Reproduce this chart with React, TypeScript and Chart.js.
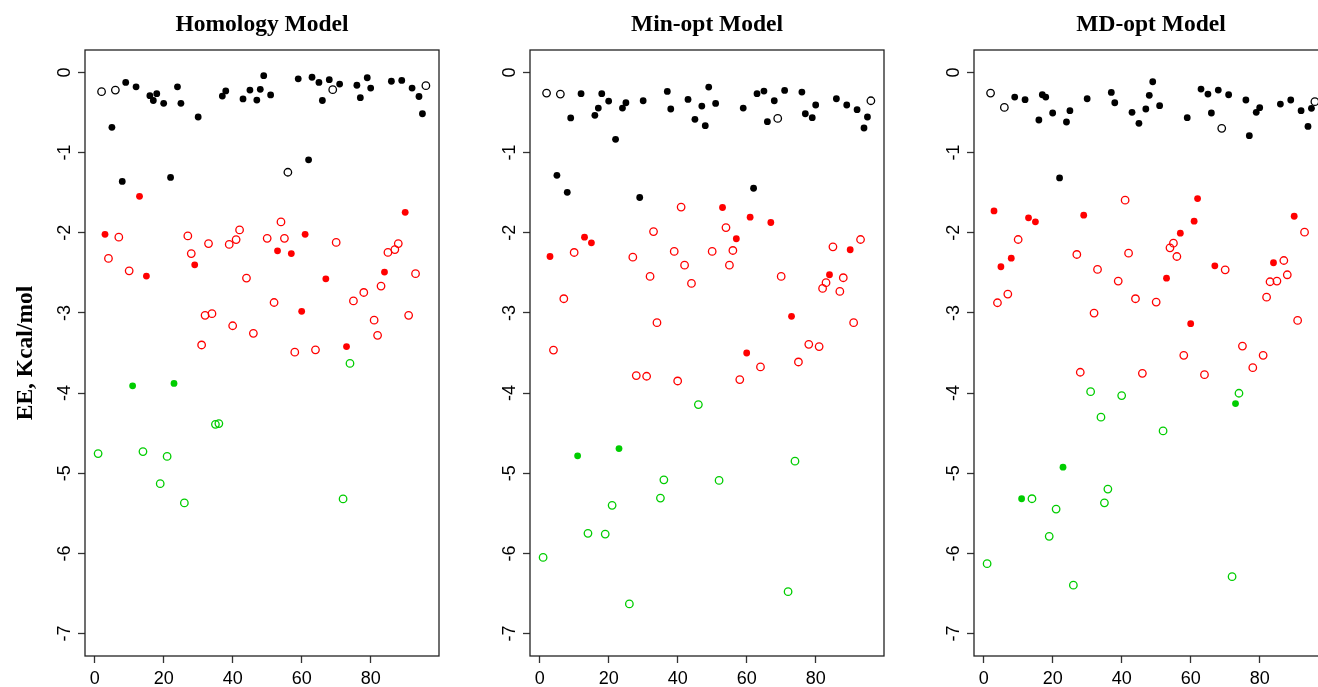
import React, { useEffect, useRef } from "react";
import { Chart, registerables } from "chart.js";

Chart.register(...registerables);

const PANEL_TITLES = ["Homology Model", "Min-opt Model", "MD-opt Model"];
const X_TICKS = [0, 20, 40, 60, 80];
const Y_TICKS = [0, -1, -2, -3, -4, -5, -6, -7];
const Y_LABEL = "EE, Kcal/mol";

// 1 = filled dot, 0 = open circle (same for every panel), compound index 1..96
const FILLED = [
  0, 0, 1, 0, 1, 0, 0, 1, 1, 0,
  1, 1, 1, 0, 1, 1, 1, 1, 0, 1,
  0, 1, 1, 1, 1, 0, 0, 0, 1, 1,
  0, 0, 0, 0, 0, 0, 1, 1, 0, 0,
  0, 0, 1, 0, 1, 0, 1, 1, 1, 0,
  1, 0, 1, 0, 0, 0, 1, 0, 1, 1,
  1, 1, 1, 0, 1, 1, 1, 1, 0, 0,
  1, 0, 1, 0, 0, 1, 1, 0, 1, 1,
  0, 0, 0, 1, 0, 1, 0, 0, 1, 1,
  0, 1, 0, 1, 1, 0,
];

// colour class per compound: k = black, r = red, g = green
const HOMOLOGY_CLASS =
  "gkrrkkrkkr" + "gkrgrkkkgk" + "gkgkkgrrrk" + "rrrrggkkrr" + "rrkrkrkkkr" +
  "krrrrkrrkr" + "rkkrkkrkkr" + "kgrgrkkrkk" + "rrrrrkrrkr" + "rkrkkk";
const MINOPT_CLASS =
  "gkrrkkrkkr" + "gkrgrkkkgk" + "gkgkkgrrkk" + "rrrrggkkrr" + "rrkrkgkkkr" +
  "kgrrrrrrkr" + "rkkrkkrkkr" + "kgrgrkkrkk" + "rrrrrkrrkr" + "rkrkkk";
const MDOPT_CLASS =
  "gkrrrkrrkr" + "gkrgrkkkgk" + "gkgkkgrrrk" + "grrgggkkrg" + "rrkrkrkkkr" +
  "kgrrrrrrkr" + "rrkrkkrkkr" + "kgggrkkrkk" + "rrrrrkrrkr" + "rkrkkk";

const HOMOLOGY_EE = [
  -4.755, -0.24, -2.02, -2.32, -0.685, -0.22, -2.055, -1.36, -0.125, -2.475,
  -3.91, -0.18, -1.545, -4.73, -2.54, -0.29, -0.35, -0.265, -5.13, -0.385,
  -4.79, -1.31, -3.88, -0.18, -0.385, -5.37, -2.04, -2.26, -2.4, -0.556,
  -3.4, -3.03, -2.135, -3.01, -4.39, -4.38, -0.295, -0.23, -2.145, -3.16,
  -2.085, -1.965, -0.33, -2.565, -0.22, -3.255, -0.345, -0.21, -0.04, -2.07,
  -0.28, -2.87, -2.225, -1.865, -2.07, -1.245, -2.26, -3.49, -0.08, -2.98,
  -2.02, -1.09, -0.06, -3.46, -0.125, -0.35, -2.575, -0.09, -0.215, -2.12,
  -0.145, -5.32, -3.42, -3.63, -2.85, -0.16, -0.315, -2.745, -0.066, -0.195,
  -3.09, -3.28, -2.665, -2.49, -2.245, -0.11, -2.21, -2.135, -0.1, -1.745,
  -3.03, -0.195, -2.51, -0.3, -0.515, -0.165,
];

const MINOPT_EE = [
  -6.05, -0.257, -2.296, -3.463, -1.283, -0.27, -2.823, -1.495, -0.568, -2.246,
  -4.783, -0.265, -2.055, -5.75, -2.125, -0.535, -0.445, -0.265, -5.759, -0.357,
  -5.4, -0.834, -4.692, -0.445, -0.378, -6.63, -2.305, -3.782, -1.56, -0.353,
  -3.79, -2.545, -1.985, -3.122, -5.31, -5.082, -0.237, -0.456, -2.233, -3.849,
  -1.68, -2.404, -0.336, -2.632, -0.585, -4.143, -0.419, -0.664, -0.182, -2.233,
  -0.386, -5.09, -1.685, -1.935, -2.404, -2.221, -2.075, -3.832, -0.445, -3.5,
  -1.806, -1.445, -0.265, -3.674, -0.232, -0.614, -1.872, -0.353, -0.573, -2.545,
  -0.224, -6.477, -3.043, -4.85, -3.612, -0.245, -0.515, -3.392, -0.564, -0.406,
  -3.42, -2.694, -2.623, -2.524, -2.175, -0.328, -2.732, -2.561, -0.406, -2.212,
  -3.122, -0.465, -2.084, -0.693, -0.556, -0.353,
];

const MDOPT_EE = [
  -6.128, -0.257, -1.727, -2.873, -2.424, -0.436, -2.765, -2.317, -0.307, -2.084,
  -5.318, -0.34, -1.814, -5.318, -1.864, -0.593, -0.278, -0.307, -5.787, -0.506,
  -5.447, -1.316, -4.924, -0.618, -0.477, -6.397, -2.271, -3.74, -1.781, -0.328,
  -3.982, -3.002, -2.458, -4.301, -5.369, -5.198, -0.249, -0.378, -2.603, -4.031,
  -1.594, -2.255, -0.498, -2.823, -0.635, -3.753, -0.456, -0.286, -0.116, -2.865,
  -0.415, -4.472, -2.566, -2.188, -2.13, -2.296, -2.005, -3.529, -0.564, -3.134,
  -1.856, -1.573, -0.207, -3.77, -0.27, -0.506, -2.412, -0.22, -0.697, -2.462,
  -0.278, -6.29, -4.131, -4.002, -3.413, -0.344, -0.789, -3.683, -0.498, -0.44,
  -3.529, -2.803, -2.611, -2.374, -2.603, -0.394, -2.346, -2.524, -0.344, -1.794,
  -3.093, -0.477, -1.993, -0.673, -0.448, -0.365,
];

const PANEL_VALUES = [HOMOLOGY_EE, MINOPT_EE, MDOPT_EE];
const PANEL_CLASSES = [HOMOLOGY_CLASS, MINOPT_CLASS, MDOPT_CLASS];

const COLORS: Record<string, string> = { k: "#000000", r: "#FF0000", g: "#00CD00" };

const CANVAS_W = 445;
const CANVAS_H = 687;
const CANVAS_LEFT = [0, 445, 889];
const AXIS_W = 85;
const PLOT_W = 354;
const PLOT_TOP = 50;
const X_AXIS_H = 31;

const SERIF = '"Liberation Serif", "Times New Roman", serif';
const SANS = '"Liberation Sans", Arial, Helvetica, sans-serif';

const framePlugin = {
  id: "frame",
  afterDraw(chart: any, _args: any, opts: any) {
    const { ctx, chartArea: a, scales } = chart;
    ctx.save();
    ctx.strokeStyle = "#222";
    ctx.lineWidth = 1.3;
    ctx.strokeRect(a.left, a.top, a.right - a.left, a.bottom - a.top);

    ctx.fillStyle = "#000";
    ctx.font = `bold 23.5px ${SERIF}`;
    ctx.textAlign = "center";
    ctx.textBaseline = "alphabetic";
    ctx.fillText(opts.title, (a.left + a.right) / 2, 30.5);

    ctx.font = `18px ${SANS}`;
    for (const v of Y_TICKS) {
      const y = scales.y.getPixelForValue(v);
      ctx.save();
      ctx.translate(a.left - 15.5, y);
      ctx.rotate(-Math.PI / 2);
      ctx.textAlign = "center";
      ctx.textBaseline = "alphabetic";
      ctx.fillText(String(v), 0, 0);
      ctx.restore();
    }

    if (opts.showYLabel) {
      ctx.save();
      ctx.font = `bold 23.5px ${SERIF}`;
      ctx.translate(32, (a.top + a.bottom) / 2);
      ctx.rotate(-Math.PI / 2);
      ctx.textAlign = "center";
      ctx.textBaseline = "alphabetic";
      ctx.fillText(Y_LABEL, 0, 0);
      ctx.restore();
    }
    ctx.restore();
  },
};

function makeConfig(panel: number): any {
  const values = PANEL_VALUES[panel];
  const classes = PANEL_CLASSES[panel].split("");
  const data = values.map((y, i) => ({ x: i + 1, y }));
  const radius = FILLED.map((f) => (f ? 3.4 : 3.75));
  const bg = FILLED.map((f, i) => (f ? COLORS[classes[i]] : "rgba(0,0,0,0)"));
  const border = classes.map((c) => COLORS[c]);
  const bw = FILLED.map((f) => (f ? 0 : 1.3));

  return {
    type: "scatter",
    data: {
      datasets: [
        {
          data,
          showLine: false,
          pointRadius: radius,
          pointHoverRadius: radius,
          pointBackgroundColor: bg,
          pointBorderColor: border,
          pointBorderWidth: bw,
          pointHoverBorderWidth: bw,
        },
      ],
    },
    options: {
      responsive: false,
      animation: false,
      events: [],
      layout: {
        padding: { left: 0, right: CANVAS_W - AXIS_W - PLOT_W, top: PLOT_TOP, bottom: 0 },
      },
      plugins: {
        legend: { display: false },
        tooltip: { enabled: false },
        title: { display: false },
        frame: { title: PANEL_TITLES[panel], showYLabel: panel === 0 },
      },
      scales: {
        x: {
          type: "linear",
          min: -2.8,
          max: 99.8,
          afterBuildTicks: (s: any) => {
            s.ticks = X_TICKS.map((v) => ({ value: v }));
          },
          afterFit: (s: any) => {
            s.height = X_AXIS_H;
          },
          border: { display: false },
          grid: {
            display: true,
            drawOnChartArea: false,
            drawTicks: true,
            tickLength: 7,
            tickColor: "#333",
            tickWidth: 1.3,
          },
          ticks: {
            color: "#000",
            font: { family: SANS, size: 18 },
            padding: 5,
            maxRotation: 0,
            minRotation: 0,
            autoSkip: false,
          },
        },
        y: {
          type: "linear",
          min: -7.28,
          max: 0.28,
          afterBuildTicks: (s: any) => {
            s.ticks = Y_TICKS.map((v) => ({ value: v }));
          },
          afterFit: (s: any) => {
            s.width = AXIS_W;
          },
          border: { display: false },
          grid: {
            display: true,
            drawOnChartArea: false,
            drawTicks: true,
            tickLength: 7,
            tickColor: "#333",
            tickWidth: 1.3,
          },
          ticks: { display: false },
        },
      },
    },
    plugins: [framePlugin],
  };
}

export default function App() {
  const r0 = useRef<HTMLCanvasElement>(null);
  const r1 = useRef<HTMLCanvasElement>(null);
  const r2 = useRef<HTMLCanvasElement>(null);
  const refs = [r0, r1, r2];

  useEffect(() => {
    document.body.style.margin = "0";
    const charts = refs.map((r, i) => new Chart(r.current as HTMLCanvasElement, makeConfig(i)));
    return () => charts.forEach((c) => c.destroy());
  }, []);

  return (
    <div
      style={{
        position: "relative",
        width: 1318,
        height: 687,
        overflow: "hidden",
        background: "#fff",
      }}
    >
      {refs.map((r, i) => (
        <canvas
          key={i}
          ref={r}
          width={CANVAS_W}
          height={CANVAS_H}
          style={{ position: "absolute", left: CANVAS_LEFT[i], top: 0, width: CANVAS_W, height: CANVAS_H }}
        />
      ))}
    </div>
  );
}
